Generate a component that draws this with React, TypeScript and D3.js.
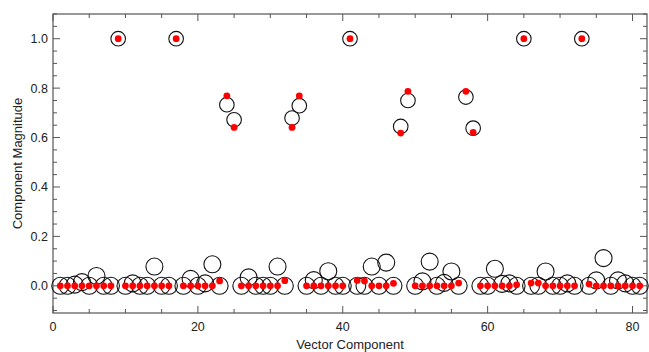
import * as d3 from "d3";

// component index 1..81
const components = d3.range(1, 82);

// open circles
const circleValues = [
  0, 0, 0.005, 0.015, 0, 0.04, 0, 0, 1.0, 0,
  0.01, 0, 0, 0.078, 0, 0, 1.0, 0, 0.028, 0,
  0.01, 0.087, 0, 0.733, 0.672, 0, 0.034, 0, 0, 0,
  0.078, 0, 0.679, 0.729, 0, 0.023, 0, 0.059, 0, 0,
  1.0, 0, 0, 0.078, 0, 0.094, 0, 0.645, 0.75, 0,
  0.018, 0.098, 0, 0.012, 0.058, 0, 0.764, 0.638, 0, 0,
  0.069, 0.008, 0.01, 0, 1.0, 0, 0, 0.058, 0, 0,
  0.01, 0, 1.0, 0, 0.022, 0.112, 0, 0.022, 0.01, 0,
  0,
];

// red dots
const dotValues = [
  0, 0, 0, 0, 0, 0, 0, 0, 1.0, 0,
  0, 0, 0, 0, 0, 0, 1.0, 0, 0, 0,
  0, 0, 0.02, 0.769, 0.641, 0, 0, 0, 0, 0,
  0, 0.021, 0.641, 0.769, 0, 0, 0, 0, 0, 0,
  1.0, 0.022, 0.019, 0, 0, 0, 0.01, 0.618, 0.787, 0,
  0, 0, 0, 0, 0, 0.011, 0.787, 0.621, 0, 0,
  0, 0, 0, 0.004, 1.0, 0.011, 0.011, 0, 0, 0,
  0, 0, 1.0, 0.007, 0, 0, 0, 0, 0, 0,
  0,
];

const xMajor = [0, 20, 40, 60, 80];
const yMajor = [0, 0.2, 0.4, 0.6, 0.8, 1.0];

const W = 649;
const H = 352;
const margin = { left: 53, right: 2, top: 14, bottom: 39 };
const frameColor = "#555";
const font = "'Liberation Sans', Arial, sans-serif";

export default function App() {
  const x = d3.scaleLinear().domain([0, 82]).range([margin.left, W - margin.right]);
  const y = d3.scaleLinear().domain([-0.11, 1.1]).range([H - margin.bottom, margin.top]);

  const [x0, x1] = x.range();
  const [y0, y1] = y.range(); // y0 bottom, y1 top

  const xMinor = d3.range(0, 83, 5).filter((v) => !xMajor.includes(v));
  const yMinor = d3.range(-0.1, 1.11, 0.05)
    .map((v) => Math.round(v * 100) / 100)
    .filter((v) => !yMajor.some((m) => Math.abs(m - v) < 1e-6));

  const major = 7;
  const minor = 4;

  return (
    <svg width={W} height={H} style={{ position: "absolute", left: 0, top: 0 }} fontFamily={font}>
      <rect x={0} y={0} width={W} height={H} fill="#fff" />

      {/* frame */}
      <rect x={x0} y={y1} width={x1 - x0} height={y0 - y1} fill="none" stroke={frameColor} strokeWidth={1.2} />

      {/* x ticks bottom + top */}
      {xMajor.map((v) => (
        <g key={"xM" + v}>
          <line x1={x(v)} x2={x(v)} y1={y0} y2={y0 - major} stroke={frameColor} />
          <line x1={x(v)} x2={x(v)} y1={y1} y2={y1 + major} stroke={frameColor} />
          <text x={x(v)} y={y0 + 18} textAnchor="middle" fontSize={12.5} fill="#222">{v}</text>
        </g>
      ))}
      {xMinor.map((v) => (
        <g key={"xm" + v}>
          <line x1={x(v)} x2={x(v)} y1={y0} y2={y0 - minor} stroke={frameColor} />
          <line x1={x(v)} x2={x(v)} y1={y1} y2={y1 + minor} stroke={frameColor} />
        </g>
      ))}

      {/* y ticks left + right */}
      {yMajor.map((v) => (
        <g key={"yM" + v}>
          <line x1={x0} x2={x0 + major} y1={y(v)} y2={y(v)} stroke={frameColor} />
          <line x1={x1} x2={x1 - major} y1={y(v)} y2={y(v)} stroke={frameColor} />
          <text x={x0 - 5} y={y(v)} dy="0.35em" textAnchor="end" fontSize={12.5} fill="#222">{v.toFixed(1)}</text>
        </g>
      ))}
      {yMinor.map((v) => (
        <g key={"ym" + v}>
          <line x1={x0} x2={x0 + minor} y1={y(v)} y2={y(v)} stroke={frameColor} />
          <line x1={x1} x2={x1 - minor} y1={y(v)} y2={y(v)} stroke={frameColor} />
        </g>
      ))}

      {/* axis titles */}
      <text x={(x0 + x1) / 2} y={H - 3} textAnchor="middle" fontSize={13} fill="#222">Vector Component</text>
      <text transform={`translate(22, ${(y0 + y1) / 2}) rotate(-90)`} textAnchor="middle" fontSize={13} fill="#222">
        Component Magnitude
      </text>

      {/* open circles */}
      <g fill="none" stroke="#111" strokeWidth={1.1}>
        {components.map((c, i) => (
          <circle key={"c" + c} cx={x(c)} cy={y(circleValues[i])} r={circleValues[i] > 0.5 ? 7.3 : 8.5} />
        ))}
      </g>

      {/* red dots */}
      <g fill="#f00">
        {components.map((c, i) => (
          <circle key={"d" + c} cx={x(c)} cy={y(dotValues[i])} r={3.4} />
        ))}
      </g>
    </svg>
  );
}
